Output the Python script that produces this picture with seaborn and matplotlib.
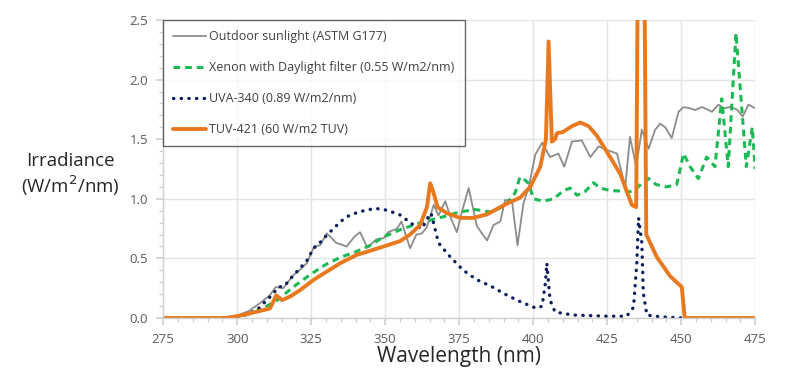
import numpy as np
import pandas as pd
import seaborn as sns
import matplotlib.pyplot as plt
from matplotlib.ticker import MultipleLocator

# Outdoor sunlight (ASTM G177)
sun_nm = [275, 295, 300, 304, 308, 311, 313, 315.5, 319, 321, 323.5, 326, 328, 330.3,
          333.5, 337, 339.5, 341.5, 344, 347, 349.5, 351, 354, 355.5, 358.4, 360.5,
          362.4, 364, 366.4, 368, 370.3, 372, 374.2, 376, 378.2, 381, 384.4, 386.6,
          388.9, 390.5, 392.8, 394.7, 396.7, 398.5, 400.7, 403, 405.7, 408.5, 410.5,
          413.1, 416.4, 419.3, 422.1, 424.9, 428.3, 431.1, 432.7, 434.8, 436.7, 439,
          441.2, 442.9, 444.6, 446.8, 449.1, 450.8, 452.8, 454.7, 457, 458.8, 460.4,
          462.6, 464.5, 466.5, 468.8, 470.8, 472.7, 475]
sun_val = [0, 0, 0.02, 0.06, 0.13, 0.19, 0.26, 0.25, 0.36, 0.40, 0.46, 0.60, 0.61, 0.71,
           0.63, 0.60, 0.68, 0.72, 0.59, 0.66, 0.67, 0.72, 0.75, 0.81, 0.585, 0.70,
           0.71, 0.76, 0.95, 0.86, 0.98, 0.85, 0.72, 0.90, 1.09, 0.77, 0.65, 0.78,
           0.81, 0.99, 0.99, 0.61, 0.96, 1.10, 1.37, 1.47, 1.35, 1.38, 1.27,
           1.48, 1.49, 1.35, 1.44, 1.41, 1.38, 1.10, 1.52, 1.27, 1.58, 1.42,
           1.58, 1.63, 1.60, 1.51, 1.73, 1.77, 1.76, 1.745, 1.77, 1.75, 1.73,
           1.79, 1.76, 1.77, 1.75, 1.69, 1.79, 1.76]

# Xenon with Daylight filter
xen_nm = [275, 298, 302, 306, 310, 313, 316, 320, 325, 330, 335, 340, 345, 349.4, 355,
          360.7, 365, 369.7, 375.3, 380.4, 385.5, 388.5, 391.1, 393.9, 395.5, 396.7,
          398.4, 400.1, 403.5, 406.9, 410.3, 412.5, 414.8, 417.5, 420.4, 422.6, 426,
          432.7, 435.5, 437.5, 439, 441.5, 445.1, 448.5, 450.8, 453, 455.8, 458.6,
          461.4, 463.7, 465.9, 468.5, 472, 474, 475]
xen_val = [0, 0, 0.02, 0.05, 0.10, 0.14, 0.20, 0.28, 0.37, 0.45, 0.51, 0.555, 0.61, 0.68,
           0.74, 0.79, 0.82, 0.85, 0.89, 0.91, 0.89, 0.92, 0.96, 1.05, 1.18, 1.17,
           1.13, 1.00, 0.98, 1.00, 1.07, 1.09, 1.03, 1.06, 1.135, 1.09, 1.07,
           1.06, 1.10, 1.15, 1.17, 1.12, 1.10, 1.12, 1.38, 1.27, 1.17, 1.35,
           1.27, 1.84, 1.27, 2.39, 1.27, 1.60, 1.25]

# UVA-340
uva_nm = [295, 298, 302, 305, 307.2, 310, 312, 314, 316, 318, 321.3, 323.5, 325.8, 327.5,
          329.7, 332.5, 335, 337, 341, 346.6, 350.6, 355, 359, 362.4, 364.6, 365.5,
          368, 371.9, 376.4, 381, 385.5, 390.5, 395.6, 401.2, 403, 404.1, 404.6, 405.7,
          407.4, 413.5, 424.9, 431.6, 433.9, 435, 435.6, 436.7, 437.2, 438.4, 442.9,
          450.5]
uva_val = [0, 0, 0.02, 0.05, 0.08, 0.15, 0.20, 0.26, 0.27, 0.33, 0.42, 0.48, 0.585, 0.62,
           0.68, 0.75, 0.81, 0.85, 0.89, 0.92, 0.905, 0.865, 0.79, 0.75, 0.85, 0.88,
           0.63, 0.515, 0.40, 0.32, 0.27, 0.20, 0.137, 0.08, 0.10, 0.29, 0.46, 0.15,
           0.05, 0.025, 0.015, 0.015, 0.09, 0.46, 0.84, 0.63, 0.21, 0.025, 0.01,
           0.0]

# TUV-421
tuv_nm = [275, 296, 300.4, 304.4, 307.8, 311.1, 313.2, 315.1, 317.9, 321.3, 325.8, 330.3,
          334.8, 340.4, 343.8, 349.4, 355, 358.4, 361.8, 364.1, 365.2, 366.1, 367.7,
          370.8, 375.3, 379.8, 384.4, 388.9, 391.1, 395.6, 399, 402.4, 404.3, 405.2,
          406.3, 407.4, 408, 410, 413.1, 415.9, 418.7, 421.5, 425.5, 429.4, 433.3,
          434.8, 435.5, 437.4, 438.2, 441.8, 446.3, 450.2, 451.2, 475]
tuv_val = [0, 0, 0.017, 0.04, 0.06, 0.08, 0.19, 0.15, 0.18, 0.235, 0.32, 0.39,
           0.46, 0.53, 0.555, 0.60, 0.645, 0.70, 0.78, 0.93, 1.13, 1.07, 0.93,
           0.88, 0.84, 0.84, 0.87, 0.93, 0.96, 1.01, 1.10, 1.27, 1.50, 2.32,
           1.48, 1.50, 1.55, 1.56, 1.61, 1.64, 1.61, 1.53, 1.37, 1.21, 0.95,
           0.93, 3.5, 3.5, 0.70, 0.51, 0.35, 0.26, 0.0, 0]

labels = ["Outdoor sunlight (ASTM G177)",
          "Xenon with Daylight filter (0.55 W/m2/nm)",
          "UVA-340 (0.89 W/m2/nm)",
          "TUV-421 (60 W/m2 TUV)"]

sns.set_theme(style="white")
plt.rcParams['font.family'] = ['Open Sans', 'DejaVu Sans']

fig = plt.figure(figsize=(8, 3.89), dpi=100)
ax = fig.add_axes([0.204, 0.1825, 0.74, 0.766])

sns.lineplot(x=sun_nm, y=sun_val, ax=ax, color="#8c8c8c", lw=1.3, estimator=None,
             sort=False, label=labels[0])
sns.lineplot(x=xen_nm, y=xen_val, ax=ax, color="#1db954", lw=2.2, estimator=None,
             sort=False, label=labels[1], linestyle=(0, (2.2, 1.6)))
sns.lineplot(x=uva_nm, y=uva_val, ax=ax, color="#0b1f5c", lw=2.4, estimator=None,
             sort=False, label=labels[2], linestyle=(0, (0.1, 2.2)),
             dash_capstyle="round")
sns.lineplot(x=tuv_nm, y=tuv_val, ax=ax, color="#e8791f", lw=2.8, estimator=None,
             sort=False, label=labels[3])

ax.set_xlim(275, 475)
ax.set_ylim(0, 2.5)
ax.xaxis.set_major_locator(MultipleLocator(25))
ax.xaxis.set_minor_locator(MultipleLocator(5))
ax.yaxis.set_major_locator(MultipleLocator(0.5))
ax.yaxis.set_minor_locator(MultipleLocator(0.1))
ax.yaxis.set_major_formatter(plt.FormatStrFormatter('%.1f'))
ax.grid(True, which="major", color="#e3e3e3", lw=1)
ax.set_axisbelow(True)
for s in ["top", "right"]:
    ax.spines[s].set_visible(False)
for s in ["left", "bottom"]:
    ax.spines[s].set_color("#d0d0d0")
    ax.spines[s].set_linewidth(1)
ax.tick_params(which="both", direction="out", color="#d0d0d0", labelcolor="#595959",
               labelsize=9.5, bottom=True, left=True)
ax.tick_params(which="major", length=5, pad=6)
ax.tick_params(which="minor", length=3)

ax.set_xlabel("Wavelength (nm)", fontsize=15, color="#262626", labelpad=0)
ax.set_ylabel("Irradiance\n(W/m$^2$/nm)", fontsize=13.5, color="#262626", rotation=0,
              labelpad=0, va="center", ha="center")
ax.yaxis.set_label_coords(-0.157, 0.48)

leg = ax.legend(loc="upper left", bbox_to_anchor=(0, 1), borderaxespad=0,
                fancybox=False, frameon=True, fontsize=9, labelspacing=1.45,
                handlelength=2.6, handletextpad=0.3, borderpad=0.8)
leg.get_frame().set_edgecolor("#404040")
leg.get_frame().set_linewidth(1)
for t in leg.get_texts():
    t.set_color("#404040")

fig.savefig("out.png", dpi=100)
